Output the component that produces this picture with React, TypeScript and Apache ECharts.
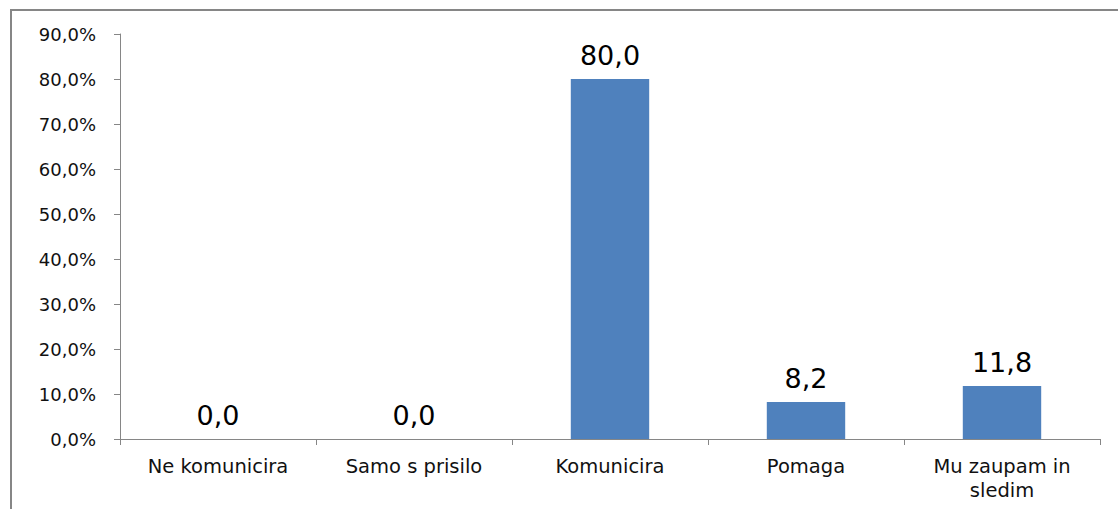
import React, { useEffect, useRef } from "react";
import * as echarts from "echarts";

// Response categories and their shares (percent)
const categories: string[] = [
  "Ne komunicira",
  "Samo s prisilo",
  "Komunicira",
  "Pomaga",
  "Mu zaupam in\nsledim",
];
const shares: number[] = [0.0, 0.0, 80.0, 8.2, 11.8];

// Y-axis range and step (percent)
const yMin = 0;
const yMax = 90;
const yStep = 10;

const FONT = "DejaVu Sans";
const AXIS_GRAY = "#868686";
const BAR_BLUE = "#4F81BD";

const fmtDecimal = (v: number) => v.toFixed(1).replace(".", ",");

export default function App() {
  const ref = useRef<HTMLDivElement>(null);

  useEffect(() => {
    if (!ref.current) return;
    const chart = echarts.init(ref.current, undefined, { renderer: "svg" });
    chart.setOption({
      animation: false,
      backgroundColor: "#ffffff",
      textStyle: { fontFamily: FONT },
      grid: { left: 120, right: 18, top: 34, bottom: 70, containLabel: false },
      graphic: [
        {
          type: "rect",
          shape: { x: 11, y: 10, width: 1200, height: 600 },
          style: { fill: "none", stroke: AXIS_GRAY, lineWidth: 2 },
          silent: true,
        },
      ],
      xAxis: {
        type: "category",
        data: categories,
        axisLine: { show: true, lineStyle: { color: AXIS_GRAY, width: 1 } },
        axisTick: { show: true, length: 6, lineStyle: { color: AXIS_GRAY } },
        axisLabel: {
          color: "#111",
          fontFamily: FONT,
          fontSize: 19.5,
          lineHeight: 24,
          margin: 15,
          interval: 0,
        },
        splitLine: { show: false },
      },
      yAxis: {
        type: "value",
        min: yMin,
        max: yMax,
        interval: yStep,
        axisLine: { show: true, lineStyle: { color: AXIS_GRAY, width: 1 } },
        axisTick: { show: true, length: 6, lineStyle: { color: AXIS_GRAY } },
        axisLabel: {
          color: "#111",
          fontFamily: FONT,
          fontSize: 18,
          margin: 24,
          formatter: (v: number) => fmtDecimal(v) + "%",
        },
        splitLine: { show: false },
      },
      series: [
        {
          type: "bar",
          data: shares,
          barWidth: "40%",
          itemStyle: { color: BAR_BLUE },
          label: {
            show: true,
            position: "top",
            distance: 10,
            color: "#000",
            fontFamily: FONT,
            fontSize: 27,
            formatter: (p: any) => fmtDecimal(p.value as number),
          },
        },
      ],
    });
    return () => chart.dispose();
  }, []);

  return (
    <div
      ref={ref}
      style={{ position: "fixed", left: 0, top: 0, width: 1118, height: 509 }}
    />
  );
}
